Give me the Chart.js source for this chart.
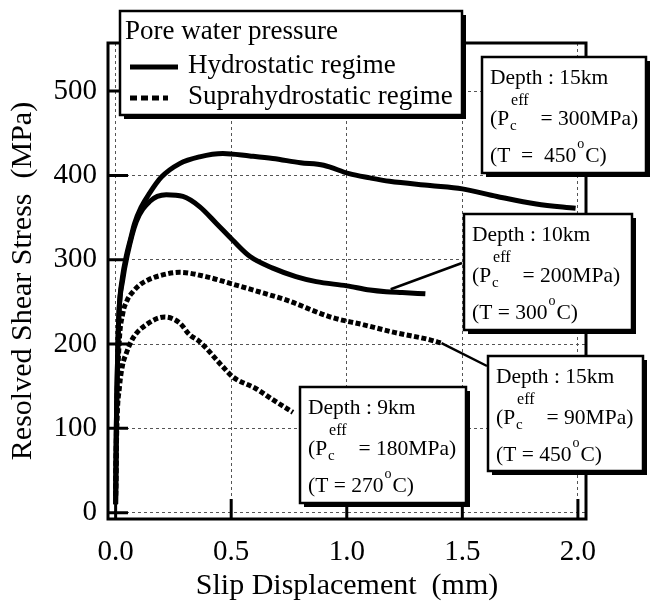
<!DOCTYPE html>
<html>
<head>
<meta charset="utf-8">
<script src="https://cdn.jsdelivr.net/npm/chart.js@4.4.0/dist/chart.umd.min.js"></script>
<style>
  html, body { margin:0; padding:0; background:#fff; }
  #wrap { width:652px; height:603px; }
</style>
</head>
<body>
<div id="wrap"><canvas id="c" width="652" height="603"></canvas></div>
<script>
const SERIF = '"Liberation Serif", "Times New Roman", serif';

// slip displacement (mm) vs resolved shear stress (MPa)
// hydrostatic, depth 15km
const hydro15X = [0, 0.003, 0.01, 0.015, 0.03, 0.046, 0.065, 0.082, 0.11, 0.147, 0.198, 0.277, 0.363, 0.464, 0.58, 0.68, 0.8, 0.9, 1.01, 1.1, 1.185, 1.36, 1.5, 1.65, 1.82, 1.99];
const hydro15Y = [10, 100, 200, 240, 280, 304, 325, 343, 362, 379, 398, 414, 422, 426, 423, 420, 415, 412, 402, 397, 393, 388, 384, 375, 366, 361];
// hydrostatic, depth 10km
const hydro10X = [0, 0.003, 0.01, 0.015, 0.03, 0.05, 0.089, 0.147, 0.219, 0.291, 0.363, 0.436, 0.507, 0.58, 0.68, 0.78, 0.868, 1.0, 1.1, 1.17, 1.24, 1.34];
const hydro10Y = [10, 100, 200, 240, 275, 305, 345, 369, 377, 375, 363, 343, 323, 304, 290, 280, 274, 269, 264, 262, 261, 259.5];
// suprahydrostatic, depth 15km
const supra15X = [0, 0.005, 0.015, 0.03, 0.05, 0.075, 0.104, 0.14, 0.19, 0.277, 0.39, 0.507, 0.62, 0.74, 0.93, 1.07, 1.21, 1.36, 1.41];
const supra15Y = [20, 120, 200, 235, 252, 262, 270, 276, 281, 285, 280, 271, 262, 252, 232, 223, 213.5, 205, 201];
// suprahydrostatic, depth 9km
const supra9X = [0, 0.005, 0.017, 0.03, 0.046, 0.075, 0.133, 0.212, 0.277, 0.32, 0.363, 0.464, 0.507, 0.608, 0.68, 0.767];
const supra9Y = [20, 100, 150, 175, 189, 207, 223, 232, 225, 211, 203, 173, 161, 147, 134, 119];

const xTicks = [0, 0.5, 1.0, 1.5, 2.0];
const yTicks = [0, 100, 200, 300, 400, 500];

const pts = (xs, ys) => xs.map((v, i) => ({x: v, y: ys[i]}));

function solid(data) {
    return { data, borderColor: '#000', borderWidth: 5, pointRadius: 0, cubicInterpolationMode: 'monotone', fill: false };
}
function dotted(data) {
    return { data, borderColor: '#000', borderWidth: 5, borderDash: [5, 2.5], pointRadius: 0, cubicInterpolationMode: 'monotone', fill: false };
}

function box(ctx, l, t, r, b) {
    ctx.fillStyle = '#000';
    ctx.fillRect(l + 4, t + 4, r - l, b - t);
    ctx.fillStyle = '#fff';
    ctx.fillRect(l, t, r - l, b - t);
    ctx.lineWidth = 2.5;
    ctx.strokeStyle = '#000';
    ctx.strokeRect(l, t, r - l, b - t);
}

// annotation box with depth / effective confining pressure / temperature
function note(ctx, l, t, r, b, depth, pc, tPre, tVal) {
    box(ctx, l, t, r, b);
    const big = '21.5px ' + SERIF;
    ctx.fillStyle = '#000';
    ctx.textAlign = 'left';
    ctx.textBaseline = 'alphabetic';
    const x0 = l + 8;
    ctx.font = big;
    ctx.fillText('Depth : ' + depth, x0, t + 27);
    ctx.fillText('(P', x0, t + 68);
    const w = ctx.measureText('(P').width;
    ctx.font = '15px ' + SERIF;
    ctx.fillText('c', x0 + w + 1, t + 73);
    ctx.font = '16px ' + SERIF;
    ctx.fillText('eff', x0 + w + 2, t + 48);
    const we = ctx.measureText('eff').width;
    ctx.font = big;
    ctx.fillText('= ' + pc + 'MPa)', x0 + w + we + 14, t + 68);
    const s = tPre + tVal;
    ctx.fillText(s, x0, t + 105);
    const ws = ctx.measureText(s).width;
    ctx.font = '14px ' + SERIF;
    ctx.fillText('o', x0 + ws + 1, t + 91);
    const wo = ctx.measureText('o').width;
    ctx.font = big;
    ctx.fillText('C)', x0 + ws + wo + 2, t + 105);
}

const decor = {
    id: 'decor',
    afterDraw(chart) {
        const {ctx, chartArea: a, scales: {x, y}} = chart;
        ctx.save();
        // frame and inward ticks
        ctx.strokeStyle = '#000';
        ctx.lineWidth = 3;
        ctx.beginPath();
        yTicks.forEach(v => { const py = y.getPixelForValue(v); ctx.moveTo(a.left, py); ctx.lineTo(a.left + 20, py); });
        xTicks.forEach(v => { const px = x.getPixelForValue(v); ctx.moveTo(px, a.bottom); ctx.lineTo(px, a.bottom - 20); });
        ctx.stroke();
        ctx.strokeRect(a.left, a.top, a.right - a.left, a.bottom - a.top);

        // leader lines
        ctx.lineWidth = 2.5;
        ctx.beginPath();
        ctx.moveTo(462, 263);
        ctx.lineTo(x.getPixelForValue(1.19), y.getPixelForValue(265));
        ctx.moveTo(487, 366);
        ctx.lineTo(x.getPixelForValue(1.41), y.getPixelForValue(201));
        ctx.stroke();

        // legend
        box(ctx, 120, 11, 462, 115);
        ctx.fillStyle = '#000';
        ctx.font = '27px ' + SERIF;
        ctx.textAlign = 'left';
        ctx.textBaseline = 'alphabetic';
        ctx.fillText('Pore water pressure', 125, 39);
        ctx.fillText('Hydrostatic regime', 188, 73);
        ctx.fillText('Suprahydrostatic regime', 188, 104);
        ctx.lineWidth = 5;
        ctx.beginPath();
        ctx.moveTo(130, 67); ctx.lineTo(178, 67);
        ctx.stroke();
        ctx.setLineDash([7, 4]);
        ctx.beginPath();
        ctx.moveTo(130, 98); ctx.lineTo(168, 98);
        ctx.stroke();
        ctx.setLineDash([]);

        note(ctx, 482, 57, 646, 173, '15km', '300', '(T  =  ', '450');
        note(ctx, 464, 214, 632, 330, '10km', '200', '(T = ', '300');
        note(ctx, 488, 356, 643, 471, '15km', '90', '(T = ', '450');
        note(ctx, 300, 387, 466, 503, '9km', '180', '(T = ', '270');
        ctx.restore();
    }
};

new Chart(document.getElementById('c'), {
    type: 'line',
    data: {
        datasets: [
            solid(pts(hydro15X, hydro15Y)),
            solid(pts(hydro10X, hydro10Y)),
            dotted(pts(supra15X, supra15Y)),
            dotted(pts(supra9X, supra9Y))
        ]
    },
    options: {
        responsive: false,
        animation: false,
        devicePixelRatio: 1,
        layout: { padding: { top: 43, right: 66, left: 0, bottom: 0 } },
        plugins: { legend: { display: false }, tooltip: { enabled: false } },
        scales: {
            x: {
                type: 'linear', min: -0.033, max: 2.035,
                afterBuildTicks: s => { s.ticks = xTicks.map(v => ({ value: v })); },
                afterFit: s => { s.height = 84; },
                grid: { color: '#555', lineWidth: 1, drawTicks: false },
                border: { display: false, dash: [3, 3] },
                ticks: { padding: 16, color: '#000', font: { family: SERIF, size: 29 }, maxRotation: 0, callback: v => v.toFixed(1) },
                title: { display: true, text: 'Slip Displacement  (mm)', color: '#000', font: { family: SERIF, size: 30 }, padding: { top: 0, bottom: -1 } }
            },
            y: {
                type: 'linear', min: -7.5, max: 557,
                afterBuildTicks: s => { s.ticks = yTicks.map(v => ({ value: v })); },
                afterFit: s => { s.width = 108; },
                grid: { color: '#555', lineWidth: 1, drawTicks: false },
                border: { display: false, dash: [3, 3] },
                ticks: { padding: 11, color: '#000', font: { family: SERIF, size: 29 } },
                title: { display: true, text: 'Resolved Shear Stress  (MPa)', color: '#000', font: { family: SERIF, size: 30 }, padding: { top: 5, bottom: 0 } }
            }
        }
    },
    plugins: [decor]
});
</script>
</body>
</html>
